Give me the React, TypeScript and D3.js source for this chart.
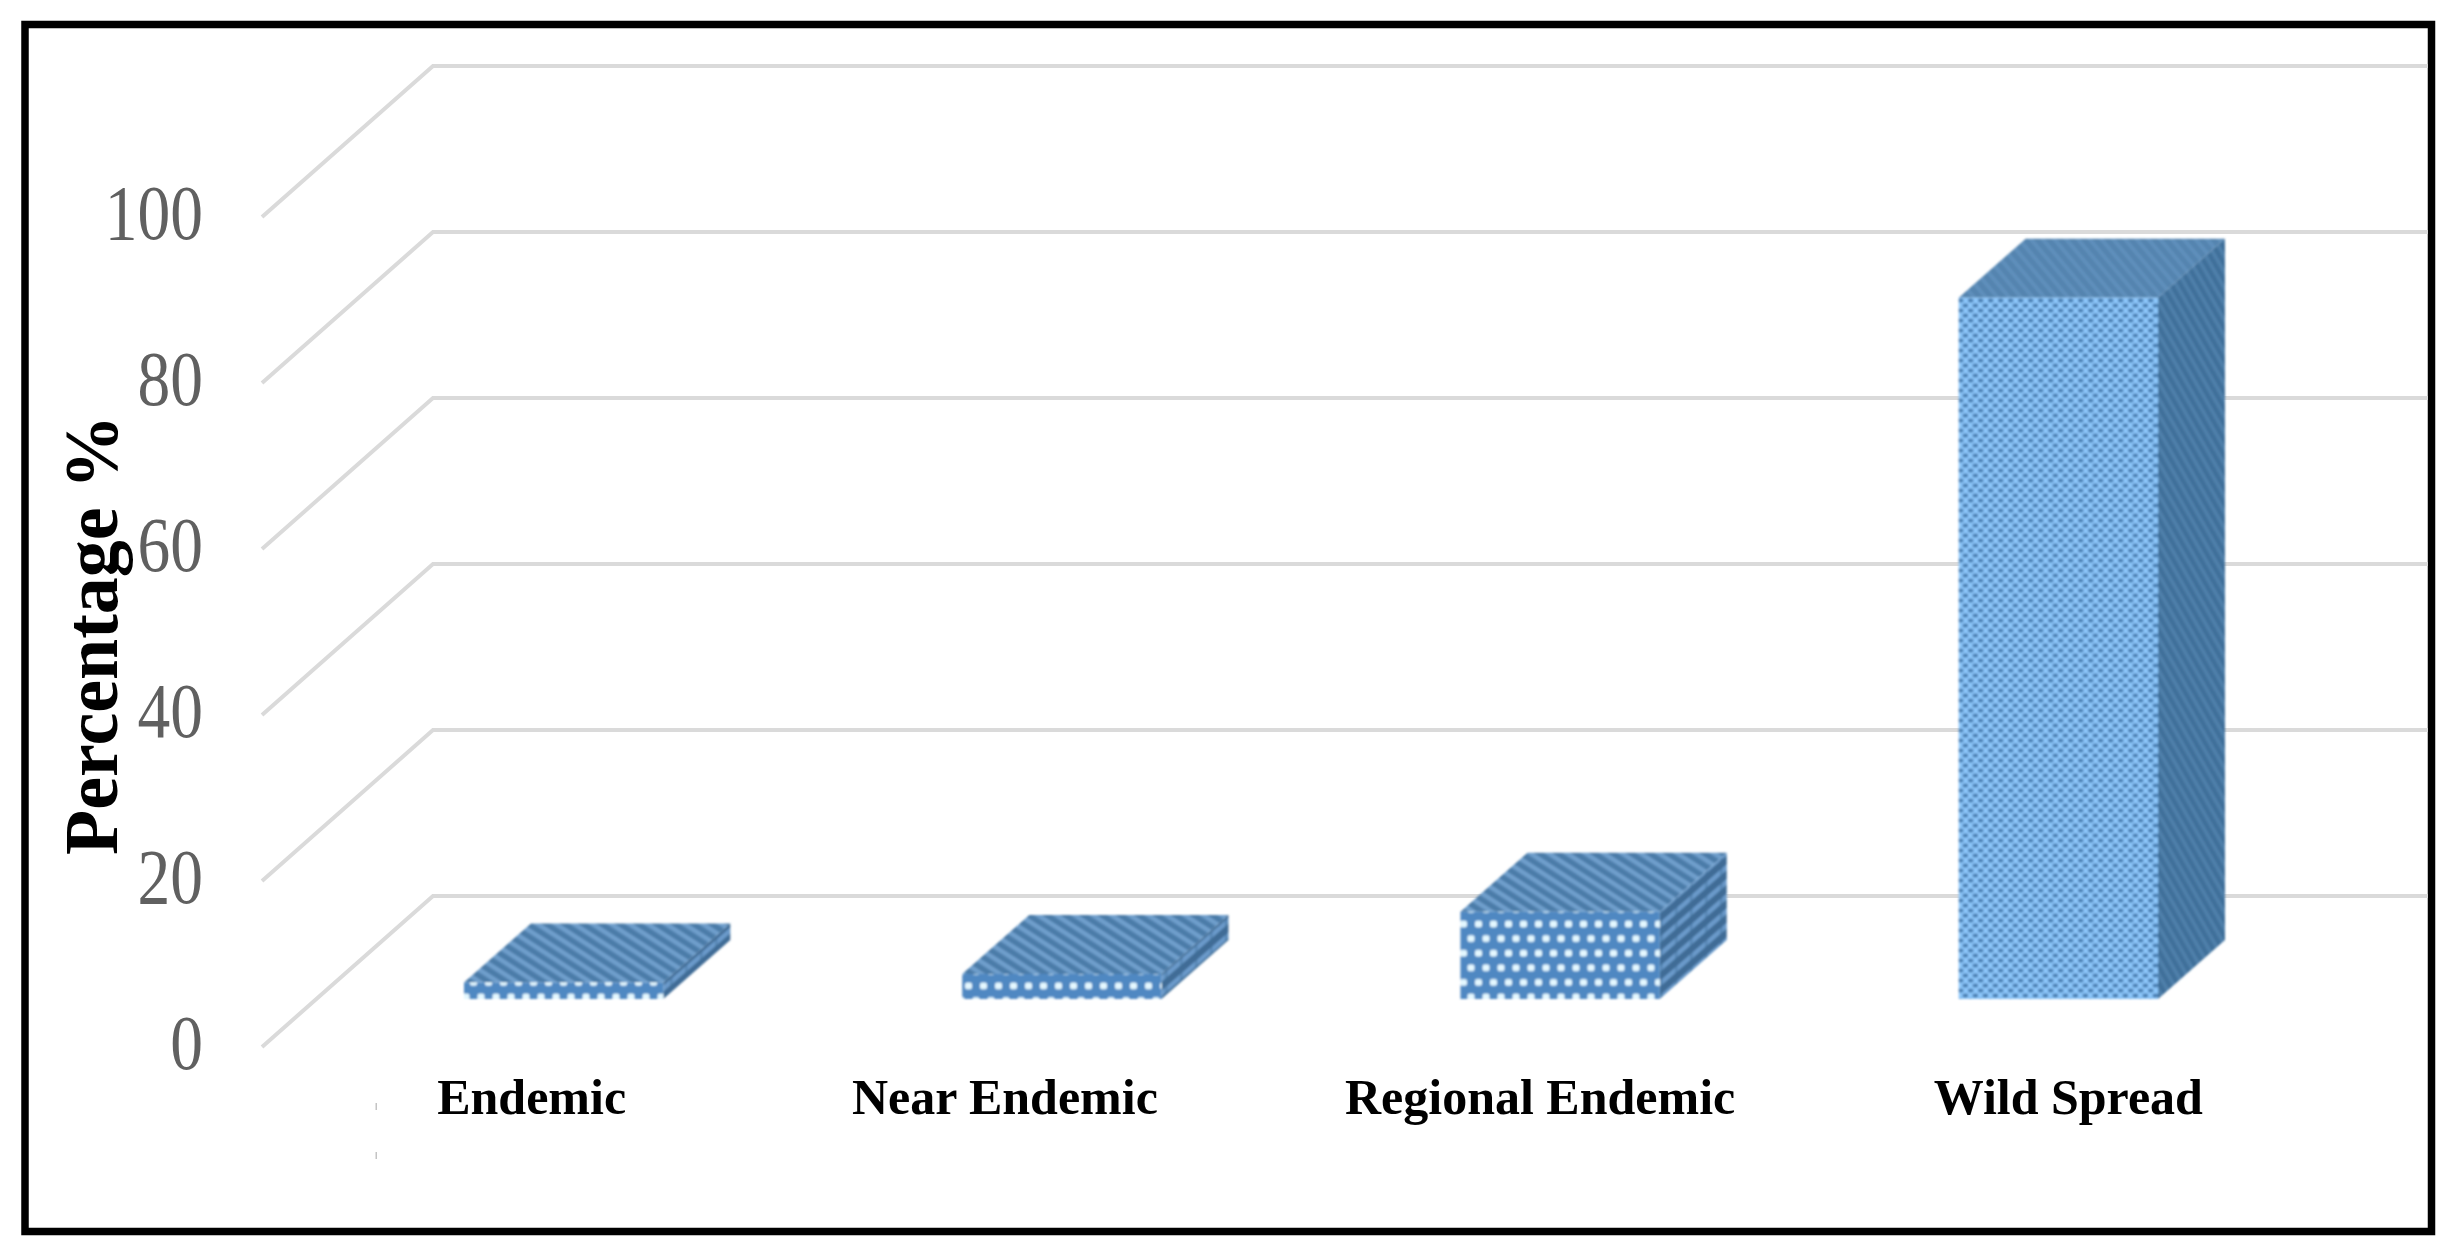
import React from "react";
import * as d3 from "d3";

// ---- data ----
const categories = ["Endemic", "Near Endemic", "Regional Endemic", "Wild Spread"];
const percentages = [2, 3, 10.5, 84.5];
const textures = ["coarse", "coarse", "coarse", "fine"];
const yTicks = [0, 20, 40, 60, 80, 100];
const yTitle = "Percentage %";

// ---- layout ----
const W = 2460;
const H = 1258;
const wallX = 433;
const wallRight = 2428;
const wallDepthX = 171;
const wallDepthY = 151;
const barDepthX = 67;
const barDepthY = 59;
const labelOffsets = [-32, -57, -20, 10];
const dotPhase = [0, 3.5, 0, 0];

const yBack = d3.scaleLinear().domain([0, 100]).range([896, 66]);
const yBar = d3.scaleLinear().domain([0, 100]).range([999, 169]);
const x = d3.scaleBand<string>().domain(categories).range([464, 2158]).paddingInner(0.6);
const poly = d3.line();
const path = (pts: [number, number][]) => poly(pts) + "Z";

export default function App() {
  const bw = x.bandwidth();
  return (
    <svg
      width={W}
      height={H}
      viewBox={`0 0 ${W} ${H}`}
      style={{ position: "absolute", left: 0, top: 0, display: "block", background: "#fff" }}
      fontFamily="'Liberation Serif', serif"
    >
      <defs>
        <filter id="soft" x="-5%" y="-5%" width="110%" height="110%">
          <feGaussianBlur stdDeviation="0.8" />
        </filter>
        <filter id="softText" x="-5%" y="-5%" width="110%" height="110%">
          <feGaussianBlur stdDeviation="0.6" />
        </filter>
        {dotPhase.map((p, i) => (
          <pattern key={i} id={`coarseFront${i}`} width={15} height={29.2} patternUnits="userSpaceOnUse"
            patternTransform={`translate(1 ${997 + p})`}>
            <rect width={15} height={29.2} fill="#4F88C2" />
            <rect x={-3.5} y={-3.5} width={7} height={7} rx={2} fill="#E4F8FF" />
            <rect x={11.5} y={-3.5} width={7} height={7} rx={2} fill="#E4F8FF" />
            <rect x={-3.5} y={25.7} width={7} height={7} rx={2} fill="#E4F8FF" />
            <rect x={11.5} y={25.7} width={7} height={7} rx={2} fill="#E4F8FF" />
            <rect x={4} y={11.1} width={7} height={7} rx={2} fill="#E4F8FF" />
          </pattern>
        ))}
        <pattern id="fineFront" width={10} height={10} patternUnits="userSpaceOnUse" patternTransform="translate(1958 298)">
          <rect width={10} height={10} fill="#8CC6FA" />
          <ellipse cx={2.5} cy={2.5} rx={3} ry={2.1} fill="#4A7FB2" />
          <ellipse cx={7.5} cy={7.5} rx={3} ry={2.1} fill="#4A7FB2" />
        </pattern>
        <pattern id="coarseTop" width={10} height={10} patternUnits="userSpaceOnUse" patternTransform="rotate(33)">
          <rect width={10} height={10} fill="#4B7BA8" />
          <rect y={0} width={10} height={4.5} fill="#6F9FCC" />
        </pattern>
        <pattern id="fineTop" width={9} height={9} patternUnits="userSpaceOnUse" patternTransform="rotate(50)">
          <rect width={9} height={9} fill="#5484AF" />
          <rect width={9} height={4} fill="#5F8FBB" />
        </pattern>
        <pattern id="coarseSide" width={15} height={14.6} patternUnits="userSpaceOnUse" patternTransform="skewY(-41)">
          <rect width={15} height={14.6} fill="#3F6C96" />
          <rect width={15} height={6} fill="#6A9ACA" />
          <rect x={10} width={2.5} height={14.6} fill="#3F6C96" opacity={0.45} />
        </pattern>
        <pattern id="fineSide" width={8} height={8} patternUnits="userSpaceOnUse" patternTransform="rotate(60)">
          <rect width={8} height={8} fill="#40709A" />
          <rect width={8} height={3.5} fill="#5080AB" />
        </pattern>
      </defs>

      {/* frame */}
      <rect x={25} y={24.5} width={2406.5} height={1207} fill="#fff" stroke="#000" strokeWidth={7.5} />

      {/* wall grid */}
      <g fill="none" stroke="#DADADA" strokeWidth={4} strokeLinejoin="miter">
        {yTicks.map((t) => (
          <path
            key={t}
            d={
              poly([
                [wallX - wallDepthX, yBack(t) + wallDepthY],
                [wallX, yBack(t)],
                [wallRight, yBack(t)],
              ]) as string
            }
          />
        ))}
      </g>

      {/* tick labels */}
      <g fill="#606060" fontSize={78} textAnchor="end" filter="url(#softText)">
        {yTicks.map((t) => (
          <text key={t} transform={`translate(203 ${yBack(t) + wallDepthY + 22}) scale(0.84 1)`}>
            {t}
          </text>
        ))}
      </g>

      {/* bars */}
      <g filter="url(#soft)">
        {categories.map((c, i) => {
          const x0 = x(c) as number;
          const x1 = x0 + bw;
          const top = yBar(percentages[i]);
          const base = yBar(0);
          const fine = textures[i] === "fine";
          return (
            <g key={c}>
              <path
                d={path([
                  [x0, top],
                  [x0 + barDepthX, top - barDepthY],
                  [x1 + barDepthX, top - barDepthY],
                  [x1, top],
                ])}
                fill={fine ? "url(#fineTop)" : "url(#coarseTop)"}
              />
              <path
                d={path([
                  [x1, top],
                  [x1 + barDepthX, top - barDepthY],
                  [x1 + barDepthX, base - barDepthY],
                  [x1, base],
                ])}
                fill={fine ? "url(#fineSide)" : "url(#coarseSide)"}
              />
              <path
                d={path([
                  [x0, top],
                  [x1, top],
                  [x1, base],
                  [x0, base],
                ])}
                fill={fine ? "url(#fineFront)" : `url(#coarseFront${i})`}
              />
            </g>
          );
        })}
      </g>

      {/* category labels */}
      <g fill="#000" fontSize={50} fontWeight="bold" textAnchor="middle">
        {categories.map((c, i) => (
          <text key={c} x={(x(c) as number) + bw / 2 + labelOffsets[i]} y={1114}>
            {c}
          </text>
        ))}
      </g>

      {/* axis title */}
      <text
        transform="translate(117 855) rotate(-90)"
        fontSize={76}
        fontWeight="bold"
        fill="#000"
        textLength={440}
        lengthAdjust="spacingAndGlyphs"
      >
        {yTitle}
      </text>

      {/* stray specks in the source */}
      <g fill="#C4C4C4">
        <rect x={375.5} y={1103} width={1.5} height={7} />
        <rect x={375.5} y={1152} width={1.5} height={7} />
      </g>
    </svg>
  );
}
